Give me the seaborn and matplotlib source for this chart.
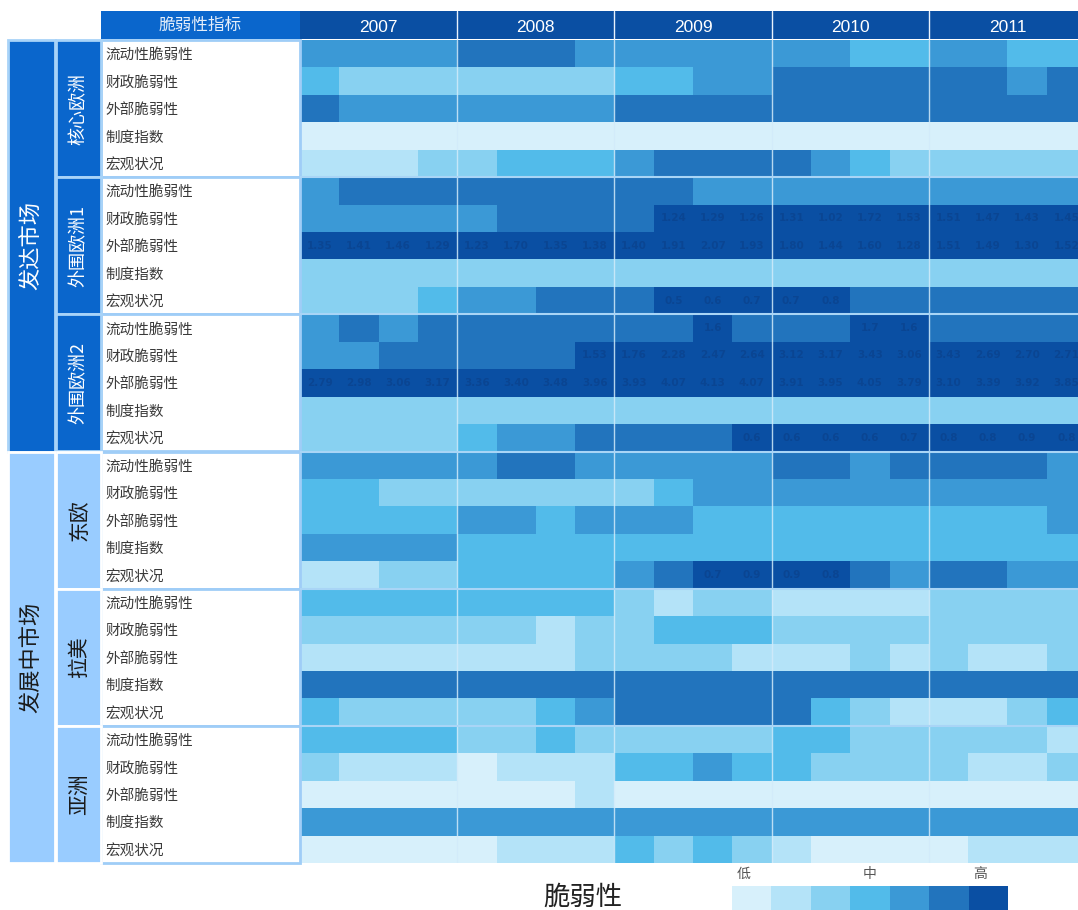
import numpy as np
import pandas as pd
import matplotlib
matplotlib.use('Agg')
import matplotlib.pyplot as plt
from matplotlib.colors import ListedColormap
from matplotlib.patches import Rectangle
from matplotlib import transforms
import seaborn as sns

# Labels
years = ['2007', '2008', '2009', '2010', '2011']
quarters = ['Q1', 'Q2', 'Q3', 'Q4']
indicators = ['流动性脆弱性', '财政脆弱性', '外部脆弱性', '制度指数', '宏观状况']
regions = ['核心欧洲', '外围欧洲1', '外围欧洲2', '东欧', '拉美', '亚洲']
markets = ['发达市场', '发展中市场']
market_region_counts = [3, 3]
legend_words = ['低', '中', '高']

# Vulnerability level (0 = low ... 6 = high), 5 indicators x 20 quarters per region
core_europe = [
    [4, 4, 4, 4, 5, 5, 5, 4, 4, 4, 4, 4, 4, 4, 3, 3, 4, 4, 3, 3],
    [3, 2, 2, 2, 2, 2, 2, 2, 3, 3, 4, 4, 5, 5, 5, 5, 5, 5, 4, 5],
    [5, 4, 4, 4, 4, 4, 4, 4, 5, 5, 5, 5, 5, 5, 5, 5, 5, 5, 5, 5],
    [0, 0, 0, 0, 0, 0, 0, 0, 0, 0, 0, 0, 0, 0, 0, 0, 0, 0, 0, 0],
    [1, 1, 1, 2, 2, 3, 3, 3, 4, 5, 5, 5, 5, 4, 3, 2, 2, 2, 2, 2],
]
periphery_1 = [
    [4, 5, 5, 5, 5, 5, 5, 5, 5, 5, 4, 4, 4, 4, 4, 4, 4, 4, 4, 4],
    [4, 4, 4, 4, 4, 5, 5, 5, 5, 6, 6, 6, 6, 6, 6, 6, 6, 6, 6, 6],
    [6, 6, 6, 6, 6, 6, 6, 6, 6, 6, 6, 6, 6, 6, 6, 6, 6, 6, 6, 6],
    [2, 2, 2, 2, 2, 2, 2, 2, 2, 2, 2, 2, 2, 2, 2, 2, 2, 2, 2, 2],
    [2, 2, 2, 3, 4, 4, 5, 5, 5, 6, 6, 6, 6, 6, 5, 5, 5, 5, 5, 5],
]
periphery_2 = [
    [4, 5, 4, 5, 5, 5, 5, 5, 5, 5, 6, 5, 5, 5, 6, 6, 5, 5, 5, 5],
    [4, 4, 5, 5, 5, 5, 5, 6, 6, 6, 6, 6, 6, 6, 6, 6, 6, 6, 6, 6],
    [6, 6, 6, 6, 6, 6, 6, 6, 6, 6, 6, 6, 6, 6, 6, 6, 6, 6, 6, 6],
    [2, 2, 2, 2, 2, 2, 2, 2, 2, 2, 2, 2, 2, 2, 2, 2, 2, 2, 2, 2],
    [2, 2, 2, 2, 3, 4, 4, 5, 5, 5, 5, 6, 6, 6, 6, 6, 6, 6, 6, 6],
]
eastern_europe = [
    [4, 4, 4, 4, 4, 5, 5, 4, 4, 4, 4, 4, 5, 5, 4, 5, 5, 5, 5, 4],
    [3, 3, 2, 2, 2, 2, 2, 2, 2, 3, 4, 4, 4, 4, 4, 4, 4, 4, 4, 4],
    [3, 3, 3, 3, 4, 4, 3, 4, 4, 4, 3, 3, 3, 3, 3, 3, 3, 3, 3, 4],
    [4, 4, 4, 4, 3, 3, 3, 3, 3, 3, 3, 3, 3, 3, 3, 3, 3, 3, 3, 3],
    [1, 1, 2, 2, 3, 3, 3, 3, 4, 5, 6, 6, 6, 6, 5, 4, 5, 5, 4, 4],
]
latin_america = [
    [3, 3, 3, 3, 3, 3, 3, 3, 2, 1, 2, 2, 1, 1, 1, 1, 2, 2, 2, 2],
    [2, 2, 2, 2, 2, 2, 1, 2, 2, 3, 3, 3, 2, 2, 2, 2, 2, 2, 2, 2],
    [1, 1, 1, 1, 1, 1, 1, 2, 2, 2, 2, 1, 1, 1, 2, 1, 2, 1, 1, 2],
    [5, 5, 5, 5, 5, 5, 5, 5, 5, 5, 5, 5, 5, 5, 5, 5, 5, 5, 5, 5],
    [3, 2, 2, 2, 2, 2, 3, 4, 5, 5, 5, 5, 5, 3, 2, 1, 1, 1, 2, 3],
]
asia = [
    [3, 3, 3, 3, 2, 2, 3, 2, 2, 2, 2, 2, 3, 3, 2, 2, 2, 2, 2, 1],
    [2, 1, 1, 1, 0, 1, 1, 1, 3, 3, 4, 3, 3, 2, 2, 2, 2, 1, 1, 2],
    [0, 0, 0, 0, 0, 0, 0, 1, 0, 0, 0, 0, 0, 0, 0, 0, 0, 0, 0, 0],
    [4, 4, 4, 4, 4, 4, 4, 4, 4, 4, 4, 4, 4, 4, 4, 4, 4, 4, 4, 4],
    [0, 0, 0, 0, 0, 1, 1, 1, 3, 2, 3, 2, 1, 0, 0, 0, 0, 1, 1, 1],
]

# Values printed in the darkest cells, in left-to-right order
p1_fiscal_notes = ['1.24', '1.29', '1.26', '1.31', '1.02', '1.72', '1.53', '1.51', '1.47', '1.43', '1.45']
p1_external_notes = ['1.35', '1.41', '1.46', '1.29', '1.23', '1.70', '1.35', '1.38', '1.40', '1.91',
                     '2.07', '1.93', '1.80', '1.44', '1.60', '1.28', '1.51', '1.49', '1.30', '1.52']
p1_macro_notes = ['0.5', '0.6', '0.7', '0.7', '0.8']
p2_liquidity_notes = ['1.6', '1.7', '1.6']
p2_fiscal_notes = ['1.53', '1.76', '2.28', '2.47', '2.64', '3.12', '3.17', '3.43', '3.06', '3.43',
                   '2.69', '2.70', '2.71']
p2_external_notes = ['2.79', '2.98', '3.06', '3.17', '3.36', '3.40', '3.48', '3.96', '3.93', '4.07',
                     '4.13', '4.07', '3.91', '3.95', '4.05', '3.79', '3.10', '3.39', '3.92', '3.85']
p2_macro_notes = ['0.6', '0.6', '0.6', '0.6', '0.7', '0.8', '0.8', '0.9', '0.8']
ee_macro_notes = ['0.7', '0.9', '0.9', '0.8']

level_colors = ['#d7f0fb', '#b4e3f8', '#88d1f1', '#52bbea', '#3b99d6', '#2274bd', '#0a4fa3']

# Build the table
groups = [core_europe, periphery_1, periphery_2, eastern_europe, latin_america, asia]
levels = np.vstack([np.array(g) for g in groups])
columns = [f'{y}{q}' for y in years for q in quarters]
row_index = pd.MultiIndex.from_product([regions, indicators])
df = pd.DataFrame(levels, index=row_index, columns=columns)

annot = np.full(levels.shape, '', dtype=object)
note_rows = {6: p1_fiscal_notes, 7: p1_external_notes, 9: p1_macro_notes,
             10: p2_liquidity_notes, 11: p2_fiscal_notes, 12: p2_external_notes,
             14: p2_macro_notes, 19: ee_macro_notes}
for r, notes in note_rows.items():
    dark_cols = np.where(levels[r] == 6)[0]
    for c, txt in zip(dark_cols, notes):
        annot[r, c] = txt

# Figure
sns.set_theme(style='white')
plt.rcParams['font.family'] = ['Noto Sans CJK SC', 'DejaVu Sans']

W, H = 1078, 910
fig = plt.figure(figsize=(W / 100, H / 100), dpi=100, facecolor='white')
cell_w = 39.3
ax = fig.add_axes([300 / W, 1 - 863 / H, 20 * cell_w / W, 823 / H])

cmap = ListedColormap(level_colors)
sns.heatmap(df, ax=ax, cmap=cmap, vmin=-0.5, vmax=6.5, cbar=False,
            annot=annot, fmt='',
            annot_kws={'color': '#0a4592', 'fontsize': 7.5, 'fontweight': 'bold',
                       'family': 'DejaVu Sans'},
            xticklabels=False, yticklabels=False)
ax.set_xlabel('')
ax.set_ylabel('')

for k in range(1, len(years)):
    ax.axvline(4 * k, color='#d2ebfa', lw=1, alpha=0.85)
for g in range(1, len(regions)):
    ax.axhline(5 * g, color='#a9d5f6', lw=1.5)

# Year header
ax.add_patch(Rectangle((0, -1.06), 20, 1.02, facecolor='#0a4fa3', edgecolor='none', clip_on=False))
for k, y in enumerate(years):
    if k > 0:
        ax.plot([4 * k, 4 * k], [-1.06, -0.04], color='#e8f2fc', lw=1, clip_on=False)
    ax.text(4 * k + 2, -0.45, y, color='white', fontsize=12.5, ha='center', va='center',
            family=['Liberation Sans', 'DejaVu Sans'])

# Left side label columns (x in figure fraction, y in heatmap rows)
trans = transforms.blended_transform_factory(fig.transFigure, ax.transData)
dark_blue = '#0a66cc'
light_blue = '#99ccff'

ax.add_patch(Rectangle((101 / W, -1.06), 199 / W, 1.02, transform=trans, facecolor=dark_blue,
                       edgecolor='none', clip_on=False))
ax.text(200 / W, -0.55, '脆弱性指标', transform=trans, color='#e4edf9', fontsize=12,
        ha='center', va='center')

for g, region in enumerate(regions):
    top = 5 * g
    developed = g < market_region_counts[0]
    ax.add_patch(Rectangle((101 / W, top), 199 / W, 5, transform=trans, facecolor='white',
                           edgecolor='#9fcdf7', lw=2, clip_on=False))
    for i, name in enumerate(indicators):
        ax.text(105 / W, top + i + 0.55, name, transform=trans, color='#3a3a3a', fontsize=10.5,
                ha='left', va='center')
    ax.add_patch(Rectangle((56 / W, top), 45 / W, 5, transform=trans,
                           facecolor=dark_blue if developed else light_blue,
                           edgecolor='#a8d3f8' if developed else 'white', lw=2, clip_on=False))
    ax.text(79 / W, top + 2.5, region, transform=trans, rotation=90,
            color='white' if developed else '#1a1a1a',
            fontsize=13 if developed else 15, ha='center', va='center')

start = 0
for m, market in enumerate(markets):
    span = 5 * market_region_counts[m]
    ax.add_patch(Rectangle((8 / W, start), 47 / W, span, transform=trans,
                           facecolor=dark_blue if m == 0 else light_blue,
                           edgecolor='#a8d3f8' if m == 0 else 'white', lw=2, clip_on=False))
    ax.text(31 / W, start + span / 2, market, transform=trans, rotation=90,
            color='white' if m == 0 else '#1a1a1a', fontsize=16, ha='center', va='center')
    start += span

# Legend
lax = fig.add_axes([732 / W, 0, 276 / W, 24 / H])
sns.heatmap(np.arange(len(level_colors)).reshape(1, -1), ax=lax, cmap=cmap, vmin=-0.5, vmax=6.5,
            cbar=False, xticklabels=False, yticklabels=False)
ltrans = transforms.blended_transform_factory(lax.transData, fig.transFigure)
for xpos, word in zip([0.3, 3.5, 6.3], legend_words):
    lax.text(xpos, 1 - 874 / H, word, transform=ltrans, color='#555555', fontsize=10,
             ha='center', va='center')
fig.text(583 / W, 1 - 897 / H, '脆弱性', color='#222222', fontsize=19, ha='center', va='center')

fig.savefig('out.png', dpi=100, facecolor='white')
